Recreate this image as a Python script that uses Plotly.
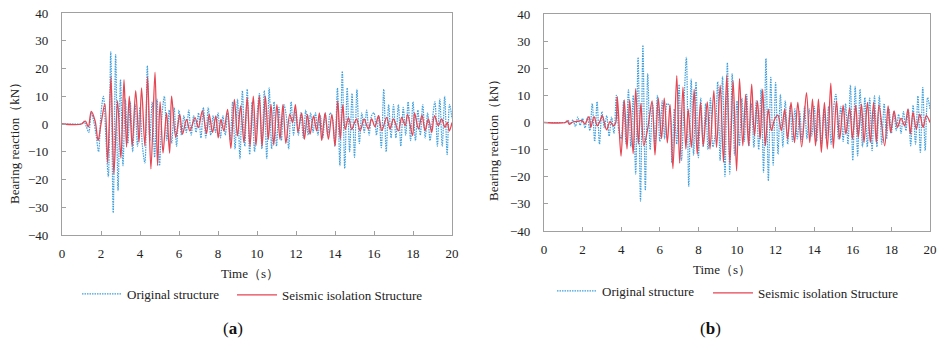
import plotly.graph_objects as go
import numpy as np

# ---------------- DATA ----------------
# Panel (a): original structure, sampled every 1/8 s (0..20 s)
orig_a = [
    0, 0, 0, 0, 0, 0, 0, 0,
    0, 1, -1, -3, 4, 1, -4, -10,
    4, 10, -5, -19, 26, -32, 25, -24,
    16, -15, 9, -7, 8, -10, 7, -8,
    6, -8, -14, 21, -6, 8, -12, 9,
    -15, 3, 10, -6, 5, -7, 6, -8,
    5, -4, 3, -3, 5, -4, 3, -3,
    4, -5, 6, -5, 6, -4, 3, -3,
    4, -5, 3, -4, 4, -6, 8, -9,
    9, -12.5, 12, -8, 12.5, -11, 8, -10,
    3, 11, -9, 12, -12.5, 13, -9, 8,
    -8, 6, -6, 7, 3, -9, 8, -4,
    5, -4, 4, -5, 5, -4, 4, -3,
    4, -4, 3, -5, 4, -4, 4, 2,
    -8, 13, -15, 19, -16, 13, -10, 11,
    -12, 12.5, -7, 4, -3, 5, -4, 3,
    4, -4, 3, -8.5, 12.5, -10, 7, -5,
    7, -5, 7, -8, 6, -4, 8, -6,
    8, -6, 5, -4, 7, -5, 4, -6,
    2, 8, -8, 9, -8, 10, -11, 7,
    2,
]
# Panel (a): seismic isolation structure (time, value)
iso_a_t = [0, 1.0, 1.2, 1.35, 1.5, 1.7, 1.85, 2.0, 2.2, 2.34, 2.51, 2.66, 2.85, 3.02, 3.18, 3.31,
           3.45, 3.6, 3.78, 3.95, 4.08, 4.25, 4.39, 4.56, 4.77, 4.9, 5.03, 5.18, 5.36, 5.52, 5.62,
           5.83, 6.04, 6.18, 6.39, 6.56, 6.82, 6.99, 7.2, 7.41, 7.55, 7.72, 7.89, 8.01, 8.15, 8.3,
           8.49, 8.66, 8.84, 9.0, 9.16, 9.33, 9.5, 9.64, 9.81, 9.95, 10.12, 10.26, 10.43, 10.58,
           10.72, 10.86, 11.02, 11.18, 11.33, 11.48, 11.68, 11.83, 11.97, 12.1, 12.29, 12.43, 12.59,
           12.72, 12.9, 13.06, 13.2, 13.32, 13.49, 13.66, 13.84, 14.0, 14.14, 14.27, 14.4, 14.52,
           14.69, 14.86, 15.0, 15.11, 15.29, 15.49, 15.71, 15.88, 16.05, 16.23, 16.4, 16.65, 16.82,
           17.0, 17.25, 17.42, 17.6, 17.72, 17.98, 18.08, 18.28, 18.46, 18.62, 18.79, 18.96, 19.1,
           19.3, 19.47, 19.64, 19.76, 19.86, 20]
iso_a_v = [0, 0, 1, -1, 4.5, 1, -6, 0, 7.2, -14, 17, -18, 8.4, -12.3, 16, -8.3,
           10, -8, 12, -6.6, 13, -8, 17, -16.2, 18.7, -15, 8, -10.5, 4, -10.5, 10,
           -4.8, 3.5, -3.7, 1.7, -2.5, 2.3, -1.3, 4.8, -3.5, 3.5, -3, 2.9, -5, 1.7, -2.5,
           5.3, -8.8, 8.9, -4.3, 6.5, -6.7, 9.5, -8, 10, -7.7, 10, -8, 10, -5.5,
           7.1, -7.6, 7, -5.5, 7, -7, 3.5, 0.5, 7, -3, 4, -5.5, 3.5,
           -3.7, 2.9, -2.5, 4, -6, 4, -5.5, 3.5, -8, 8.3, -5.5, 7, -2,
           2.3, -2, 0.5, 1.8, -2.5, 1.8, -1.8, 1.8, -1, 3, -2.4, 2.4, -1.8,
           1.8, -2.5, 2.4, -0.6, 3.5, -4.2, 4, -1.8, 3.2, -2.4, 1.8, -3, 3,
           -0.6, 1.8, -1.2, 0.6, -2.5, 0.5]

# Panel (b): original structure, sampled every 1/8 s (0..20 s)
orig_b = [
    0, 0, 0, 0, 0, 0, 0, 0,
    0, 0, 0.8, -0.5, 1, -1.5, 2, -1,
    1.5, -2, 2, -3, 7, -7, 7.7, -8,
    4, -2, 2.5, -5, 2, -4, 10, -3,
    -6, 8, -8, 12, -9, 10, -19, 24,
    -29, 28.5, -25, 18, -10, 7, -9, 10,
    -7, 8, -6, 7, 6, -15, 5, -8,
    14, -14, 6, 24, -23.6, 16, -12, 15,
    -13, 9, -9, 7, -10, 9, -9, -4,
    15, -14, 17, -20, 22, -19, 18, -12,
    8, -8.6, 9, -7, 10.4, -8.6, 7, -9.2,
    8, -10, 12.3, -18.4, 23.6, -21.5, 16.6, -15.7,
    14.7, -11.7, 10.4, -9, 8, -8, 6, -7,
    5, -6, 4, -7, 6, -6, 5, -5,
    6, -7, 5, -8, 5, -6, 6, -8,
    5, 10.4, -6, 6, -7, 7, -8, 13.8,
    -14, 13.3, -12.3, 12.3, -9, 9.2, -9, 9,
    -10.4, 9.8, -9, 9.8, -8, 7, -6, 5,
    -4, 4, -3, 3, -4, 4, -3, 5,
    -8.6, 6.4, -8, 9.8, -11, 12.9, -10.4, 9.2,
    5,
]
# Panel (b): seismic isolation structure (time, value)
iso_b_t = [0, 1.1, 1.21, 1.31, 1.45, 1.6, 1.8, 1.95, 2.12, 2.33, 2.43, 2.59, 2.76, 2.9, 3.02, 3.24,
           3.42, 3.59, 3.71, 3.8, 3.99, 4.16, 4.3, 4.44, 4.62, 4.75, 4.89, 5.02, 5.17, 5.38, 5.6,
           5.75, 5.92, 6.09, 6.23, 6.39, 6.53, 6.68, 6.88, 7.03, 7.2, 7.35, 7.47, 7.64, 7.78, 7.94,
           8.11, 8.25, 8.46, 8.6, 8.8, 8.94, 9.13, 9.3, 9.47, 9.63, 9.8, 9.98, 10.13, 10.3, 10.45,
           10.6, 10.76, 10.9, 11.06, 11.2, 11.33, 11.47, 11.62, 11.78, 11.95, 12.12, 12.3, 12.47,
           12.62, 12.8, 12.98, 13.15, 13.35, 13.6, 13.77, 13.91, 14.07, 14.22, 14.37, 14.53, 14.68,
           14.86, 14.99, 15.15, 15.32, 15.5, 15.64, 15.84, 15.98, 16.15, 16.28, 16.45, 16.58, 16.76,
           16.91, 17.08, 17.22, 17.36, 17.65, 17.83, 17.96, 18.14, 18.31, 18.5, 18.69, 18.86, 18.98,
           19.12, 19.29, 19.47, 19.64, 19.81, 20]
iso_b_v = [0, 0, 0.6, -0.7, 0, 0.3, 0.5, 0.8, -0.5, 2.2, -1.8, 2.2, -1.2, 0.5, 2.5, -2.7,
           0.3, -1.2, -0.3, 9.5, -12.4, 8.3, -9.8, 8.3, -11.5, 12.5, -8, 7, -8.5, -2, 8,
           -12, 9, -6, 9, -7.5, 6.7, -17, 17.3, -15, 13, -9.8, 4.9, -9.2, 12.3, -11.7,
           7.4, -8.6, 7.6, -9.8, 11.7, -9.2, 13.8, -14.7, 17.4, -15, 15.4, -17.8, 16.2, -8.6, 10.4,
           -8.6, 14.1, -4.9, 8, -6.1, 12.3, -8.6, 4.9, -3, 1.2, 2.7, -3, 4.9,
           -6.1, 7.4, -7.4, 7.4, -9, 11, -7.4, 8.6, -8.6, 8.6, -11, 7.4, -9.8,
           14.5, -9.5, 8, -6.1, 6.4, -4.3, 5.5, -6.1, 6.4, -5.5, 6.8, -7.4, 7.4,
           -7.4, 7.4, -7.4, 6.4, -8.6, 6.1, -3.7, 4.3, -1.8, 1.5, -1.2, 4.9, -4.3,
           3.7, -2.5, 3.1, -1.8, 2.5, 0]

x_ticks = [0, 2, 4, 6, 8, 10, 12, 14, 16, 18, 20]
y_ticks = [-40, -30, -20, -10, 0, 10, 20, 30, 40]
name_orig = "Original structure"
name_iso = "Seismic isolation Structure"

# ---------------- FIGURE ----------------
W, H = 938, 341
BLUE = "#3f9fdc"
RED = "#e64552"
FONT = "Liberation Serif"

t_orig = np.arange(len(orig_a)) / 8.0

blue_line = dict(color=BLUE, width=1.2, dash="1.5px,1px", shape="spline", smoothing=0.9)
red_line = dict(color=RED, width=1.3, shape="spline", smoothing=0.9)

fig = go.Figure()
fig.add_trace(go.Scatter(x=t_orig, y=orig_a, mode="lines", name=name_orig, line=blue_line,
                         xaxis="x", yaxis="y", legend="legend"))
fig.add_trace(go.Scatter(x=iso_a_t, y=iso_a_v, mode="lines", name=name_iso, line=red_line,
                         xaxis="x", yaxis="y", legend="legend2"))
fig.add_trace(go.Scatter(x=t_orig, y=orig_b, mode="lines", name=name_orig, line=blue_line,
                         xaxis="x2", yaxis="y2", legend="legend3"))
fig.add_trace(go.Scatter(x=iso_b_t, y=iso_b_v, mode="lines", name=name_iso, line=red_line,
                         xaxis="x2", yaxis="y2", legend="legend4"))


def px_x(p):
    return p / W


def px_y(p):
    return 1 - p / H


axis_common = dict(showline=True, mirror=True, linecolor="#a0a0a0", linewidth=1.3,
                   ticks="inside", ticklen=4, tickcolor="#a0a0a0", showgrid=False, zeroline=False,
                   automargin=False,
                   tickfont=dict(family=FONT, size=13, color="#222"))

legend_common = dict(orientation="h", xanchor="left", yanchor="middle", itemwidth=40,
                     font=dict(family=FONT, size=13, color="#222"), bgcolor="rgba(0,0,0,0)")

fig.update_layout(
    width=W, height=H, margin=dict(l=0, r=0, t=0, b=0, pad=0, autoexpand=False),
    paper_bgcolor="white", plot_bgcolor="white",
    xaxis=dict(domain=[px_x(62), px_x(452)], range=[0, 20], tickvals=x_ticks, anchor="y",
               ticklabelstandoff=6, **axis_common),
    yaxis=dict(domain=[px_y(235), px_y(13)], range=[-40, 40], tickvals=y_ticks, anchor="x",
               ticklabelstandoff=10, **axis_common),
    xaxis2=dict(domain=[px_x(544), px_x(930)], range=[0, 20], tickvals=x_ticks, anchor="y2",
                ticklabelstandoff=6, **axis_common),
    yaxis2=dict(domain=[px_y(231), px_y(14)], range=[-40, 40], tickvals=y_ticks, anchor="x2",
                ticklabelstandoff=10, **axis_common),
    legend=dict(x=px_x(77), y=px_y(294), **legend_common),
    legend2=dict(x=px_x(232), y=px_y(295), **legend_common),
    legend3=dict(x=px_x(552), y=px_y(291), **legend_common),
    legend4=dict(x=px_x(708), y=px_y(293), **legend_common),
    showlegend=True,
)

ann_font = dict(family=FONT, size=13, color="#222")
annotations = [
    dict(text="Bearing reaction（kN）", x=px_x(14), y=px_y(140), textangle=-90, font=ann_font),
    dict(text="Bearing reaction（kN）", x=px_x(493), y=px_y(137), textangle=-90, font=ann_font),
    dict(text="Time（s）", x=px_x(250), y=px_y(273), font=ann_font),
    dict(text="Time（s）", x=px_x(722), y=px_y(269), font=ann_font),
    dict(text="(<b>a</b>)", x=px_x(233), y=px_y(328), font=dict(family=FONT, size=17, color="#111")),
    dict(text="(<b>b</b>)", x=px_x(710), y=px_y(328), font=dict(family=FONT, size=17, color="#111")),
]
for a in annotations:
    a.update(xref="paper", yref="paper", showarrow=False, xanchor="center", yanchor="middle")
fig.update_layout(annotations=annotations)

fig.write_html(
    "out.html",
    config={"displayModeBar": False},
    post_script="document.body.style.margin='0';document.body.style.overflow='hidden';",
)
